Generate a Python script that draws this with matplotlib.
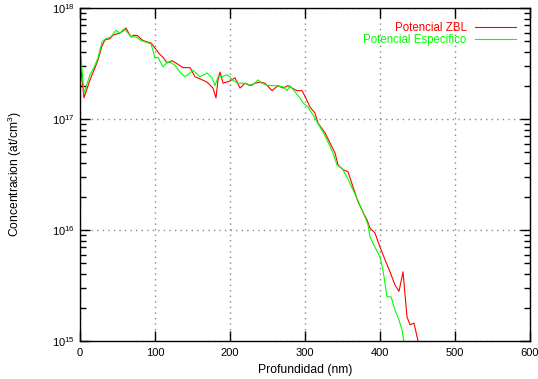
import numpy as np
import matplotlib
matplotlib.use("Agg")
import matplotlib.pyplot as plt
from matplotlib.ticker import LogLocator, NullFormatter, MultipleLocator

plt.rcParams['font.family'] = ['Liberation Sans', 'DejaVu Sans']
plt.rcParams['mathtext.fontset'] = 'custom'
plt.rcParams['mathtext.rm'] = 'Liberation Sans'
plt.rcParams['mathtext.it'] = 'Liberation Sans'

# profundidad (nm) y concentracion (at/cm3)
zbl_x = [0, 5.3, 13.3, 20, 24, 29.3, 33.3, 40, 44, 49.3, 53.3, 58.7, 61.3, 64, 68, 72,
         77.3, 82.7, 89.3, 94.7, 100, 106.7, 110.7, 116, 122.7, 129.3, 137.3, 146.7,
         153.3, 160, 169.3, 177.3, 181.3, 184, 186.7, 190.7, 200, 206.7, 213.3, 220,
         226.7, 233.3, 240, 246.7, 256, 264, 270.7, 277.3, 282.7, 289.3, 296, 300,
         306.7, 313.3, 317.3, 326.7, 333.3, 340, 344, 350.7, 357.3, 364, 370.7, 377.3,
         382.7, 386.7, 393.3, 400, 406.7, 413.3, 420, 425.3, 430.7, 436, 440, 445.3,
         450.7, 454]
zbl_y = [3.4e17, 1.55e17, 2.25e17, 2.9e17, 3.4e17, 4.55e17, 5.15e17, 5.3e17, 5.7e17,
         5.85e17, 5.95e17, 6.3e17, 6.6e17, 6.1e17, 5.5e17, 5.7e17, 5.6e17, 5.15e17,
         4.95e17, 4.85e17, 4.35e17, 3.8e17, 3.6e17, 3.2e17, 3.35e17, 3.15e17, 2.9e17,
         2.9e17, 2.4e17, 2.3e17, 2.15e17, 1.9e17, 1.55e17, 2.25e17, 2.65e17, 2.1e17,
         2.2e17, 2.35e17, 1.9e17, 2.1e17, 2.0e17, 2.1e17, 2.15e17, 2.1e17, 1.8e17,
         2.0e17, 1.9e17, 2.0e17, 1.9e17, 1.8e17, 1.8e17, 1.6e17, 1.28e17, 1.13e17,
         9.2e16, 7.5e16, 6.1e16, 4.95e16, 3.85e16, 3.5e16, 3.35e16, 2.45e16, 1.8e16,
         1.45e16, 1.23e16, 1.04e16, 9.4e15, 7.0e15, 5.4e15, 4.2e15, 3.2e15, 2.8e15,
         4.2e15, 1.65e15, 1.4e15, 1.45e15, 1.0e15, 8.0e14]

esp_x = [0, 5.3, 13.3, 20, 24, 29.3, 34.7, 41.3, 48, 53.3, 58.7, 64, 68, 74.7, 80,
         86.7, 94.7, 100, 104, 110.7, 116, 120, 126.7, 133.3, 140, 146.7, 150.7, 160,
         169.3, 176, 180, 184, 189.3, 196, 200, 202.7, 210.7, 220, 229.3, 237.3, 242.7,
         250.7, 260, 270.7, 276, 280, 286.7, 293.3, 297.3, 304, 313.3, 316, 324, 329.3,
         337.3, 342.7, 349.3, 356, 364, 373.3, 380, 384, 386.7, 393.3, 400, 404, 409.3,
         414.7, 420, 425.3, 429.3, 432, 434.7]
esp_y = [4.65e17, 1.7e17, 2.5e17, 3.05e17, 3.55e17, 4.95e17, 5.3e17, 5.5e17, 6.3e17,
         5.95e17, 6.5e17, 5.95e17, 5.5e17, 5.5e17, 5.15e17, 4.95e17, 4.75e17, 3.55e17,
         3.6e17, 2.95e17, 3.25e17, 3.25e17, 3.05e17, 2.65e17, 2.4e17, 2.6e17, 2.75e17,
         2.4e17, 2.6e17, 2.35e17, 2.0e17, 2.4e17, 2.4e17, 2.5e17, 2.4e17, 2.25e17,
         2.1e17, 2.1e17, 2.0e17, 2.25e17, 2.1e17, 2.0e17, 2.0e17, 1.95e17, 1.8e17,
         2.0e17, 1.75e17, 1.55e17, 1.4e17, 1.28e17, 1.02e17, 9.4e16, 7.65e16, 6.5e16,
         4.95e16, 3.85e16, 3.6e16, 3.0e16, 2.3e16, 1.68e16, 1.31e16, 1.11e16, 8.65e15,
         7.0e15, 5.7e15, 4.35e15, 2.5e15, 2.5e15, 1.9e15, 1.55e15, 1.26e15, 9.8e14,
         7.5e14]

fig = plt.figure(figsize=(5.38, 3.79), dpi=100)
ax = fig.add_axes([80/538, 1 - 341/379, 450/538, 333/379])

ax.plot(zbl_x, zbl_y, color='#ff0000', lw=0.8, label='Potencial ZBL')
ax.plot(esp_x, esp_y, color='#00ff00', lw=0.8, label='Potencial Especifico')

ax.set_yscale('log')
ax.set_xlim(0, 600)
ax.set_ylim(1e15, 1e18)
ax.xaxis.set_major_locator(MultipleLocator(100))
ax.yaxis.set_major_locator(LogLocator(base=10))
ax.yaxis.set_minor_locator(LogLocator(base=10, subs=np.arange(2, 10)))
ax.yaxis.set_minor_formatter(NullFormatter())

ax.tick_params(which='both', direction='in', top=True, right=True, labelsize=8)
ax.tick_params(which='major', length=7, width=1)
ax.tick_params(which='minor', length=4, width=1)
ax.tick_params(axis='x', pad=5)
ax.tick_params(axis='y', pad=4)
for s in ax.spines.values():
    s.set_linewidth(1)

ax.grid(True, which='major', color='#888888', linestyle=(0, (1, 3)), lw=1)

ax.set_xlabel('Profundidad (nm)', fontsize=8.7, labelpad=4)
ax.set_ylabel('Concentracion (at/cm$^3$)', fontsize=8.7, labelpad=20)

leg = ax.legend(loc='upper right', frameon=False, markerfirst=False, fontsize=8.3,
                handlelength=3.6, handletextpad=0.7, labelspacing=0.0,
                borderaxespad=0.6, borderpad=0.6)
for t, l in zip(leg.get_texts(), leg.get_lines()):
    t.set_color(l.get_color())

fig.savefig('out.png', dpi=100)
